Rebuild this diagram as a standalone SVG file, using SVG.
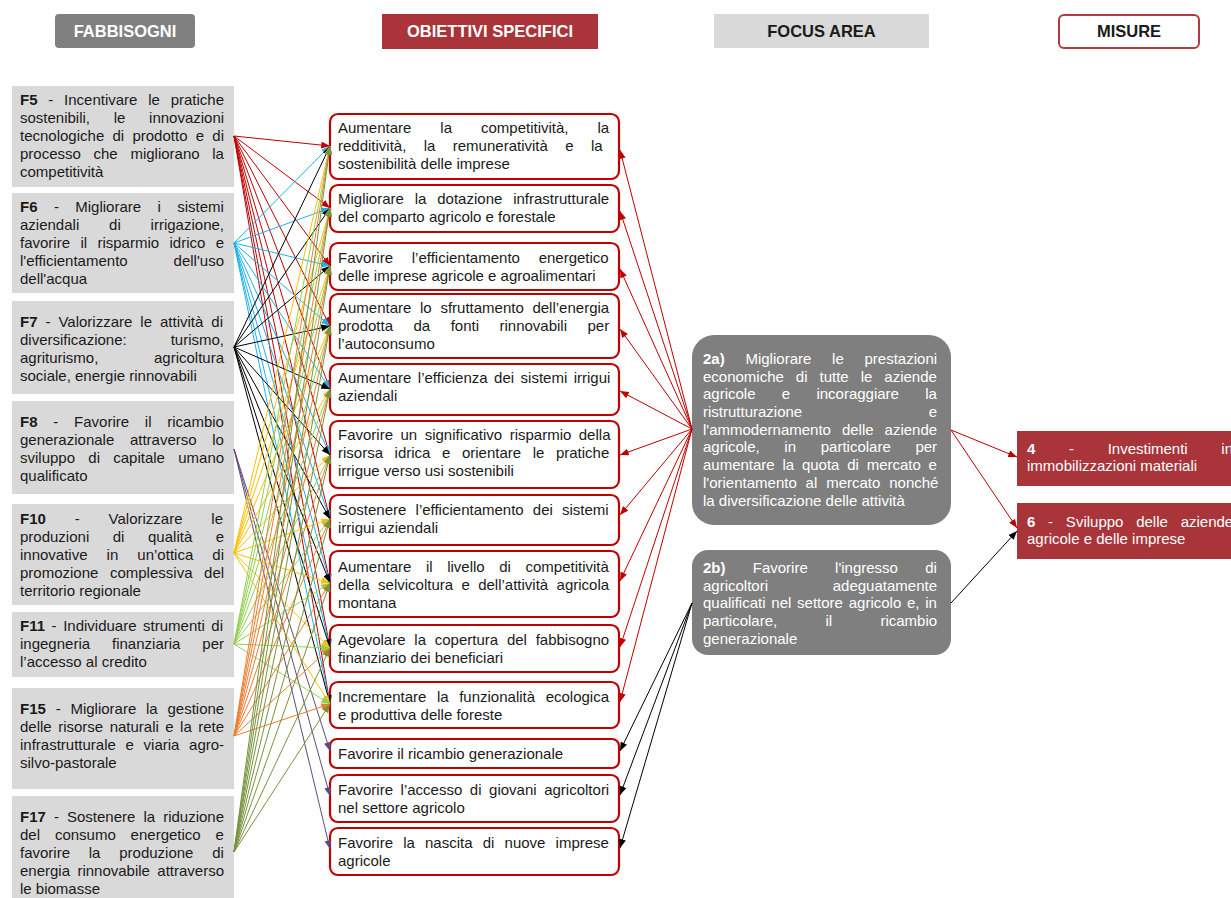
<svg xmlns="http://www.w3.org/2000/svg" width="1231" height="898" viewBox="0 0 1231 898">
<defs>
<style>
text{font-family:"Liberation Sans",Arial,sans-serif;font-size:15px;fill:#1a1a1a}
.b{font-weight:bold}
.w{fill:#fff}
.h{font-weight:bold;font-size:16.5px;text-anchor:middle}
.e{text-anchor:end}
.fb{fill:#d9d9d9}
.ob{fill:#fff;stroke:#c00000;stroke-width:2.2}
.fa{fill:#7f7f7f}
.ms{fill:#a9343a}
#conn line{stroke-width:1;fill:none}
.cr{stroke:#c00000;marker-end:url(#mr)}
.cb{stroke:#1ab2ee;marker-end:url(#mb)}
.ck{stroke:#000;marker-end:url(#mk)}
.cp{stroke:#604a7b;marker-end:url(#mp)}
.cy{stroke:#ffc000;marker-end:url(#my)}
.cg{stroke:#92d050;marker-end:url(#mg)}
.co{stroke:#ed7d31;marker-end:url(#mo)}
.cv{stroke:#77933c;marker-end:url(#mv)}
</style>
<marker id="mr" viewBox="0 0 10 8" refX="10" refY="4" markerWidth="9" markerHeight="7" orient="auto" markerUnits="userSpaceOnUse"><path d="M0,0L10,4L0,8z" fill="#c00000"/></marker>
<marker id="mb" viewBox="0 0 10 8" refX="10" refY="4" markerWidth="9" markerHeight="7" orient="auto" markerUnits="userSpaceOnUse"><path d="M0,0L10,4L0,8z" fill="#1ab2ee"/></marker>
<marker id="mk" viewBox="0 0 10 8" refX="10" refY="4" markerWidth="9" markerHeight="7" orient="auto" markerUnits="userSpaceOnUse"><path d="M0,0L10,4L0,8z" fill="#000"/></marker>
<marker id="mp" viewBox="0 0 10 8" refX="10" refY="4" markerWidth="9" markerHeight="7" orient="auto" markerUnits="userSpaceOnUse"><path d="M0,0L10,4L0,8z" fill="#604a7b"/></marker>
<marker id="my" viewBox="0 0 10 8" refX="10" refY="4" markerWidth="9" markerHeight="7" orient="auto" markerUnits="userSpaceOnUse"><path d="M0,0L10,4L0,8z" fill="#ffc000"/></marker>
<marker id="mg" viewBox="0 0 10 8" refX="10" refY="4" markerWidth="9" markerHeight="7" orient="auto" markerUnits="userSpaceOnUse"><path d="M0,0L10,4L0,8z" fill="#92d050"/></marker>
<marker id="mo" viewBox="0 0 10 8" refX="10" refY="4" markerWidth="9" markerHeight="7" orient="auto" markerUnits="userSpaceOnUse"><path d="M0,0L10,4L0,8z" fill="#ed7d31"/></marker>
<marker id="mv" viewBox="0 0 10 8" refX="10" refY="4" markerWidth="9" markerHeight="7" orient="auto" markerUnits="userSpaceOnUse"><path d="M0,0L10,4L0,8z" fill="#77933c"/></marker>
</defs>
<rect width="1231" height="898" fill="#fff"/>

<g id="headers">
<rect x="55" y="14" width="140" height="34" rx="4" fill="#808080"/>
<text class="h w" x="125" y="37">FABBISOGNI</text>
<rect x="382" y="14" width="216" height="35" fill="#a9343a"/>
<text class="h w" x="490" y="37">OBIETTIVI SPECIFICI</text>
<rect x="714" y="14" width="215" height="34" fill="#d9d9d9"/>
<text class="h" x="821.5" y="37">FOCUS AREA</text>
<rect x="1059" y="15" width="140" height="33" rx="5" fill="#fff" stroke="#b33a3f" stroke-width="2"/>
<text class="h" x="1129" y="37">MISURE</text>
</g>

<g id="F5">
<rect class="fb" x="12" y="86" width="222" height="101"/>
<text x="20" y="105" word-spacing="6.6"><tspan class="b">F5</tspan> - Incentivare le pratiche</text>
<text x="20" y="123" word-spacing="19.5">sostenibili, le innovazioni</text>
<text x="20" y="141" word-spacing="4.1">tecnologiche di prodotto e di</text>
<text x="20" y="159" word-spacing="8.5">processo che migliorano la</text>
<text x="20" y="177">competitività</text>
</g>
<g id="F6">
<rect class="fb" x="12" y="193" width="222" height="100"/>
<text x="20" y="212" word-spacing="12.2"><tspan class="b">F6</tspan> - Migliorare i sistemi</text>
<text x="20" y="230" word-spacing="25.7">aziendali di irrigazione,</text>
<text x="20" y="248" word-spacing="6.2">favorire il risparmio idrico e</text>
<text x="20" y="266">l'efficientamento</text><text class="e" x="224" y="266">dell'uso</text>
<text x="20" y="284">dell'acqua</text>
</g>
<g id="F7">
<rect class="fb" x="12" y="301" width="222" height="93"/>
<text x="20" y="327" word-spacing="3.8"><tspan class="b">F7</tspan> - Valorizzare le attività di</text>
<text x="20" y="345">diversificazione:</text><text class="e" x="224" y="345">turismo,</text>
<text x="20" y="363">agriturismo,</text><text class="e" x="224" y="363">agricoltura</text>
<text x="20" y="381">sociale, energie rinnovabili</text>
</g>
<g id="F8">
<rect class="fb" x="12" y="401" width="222" height="93"/>
<text x="20" y="427" word-spacing="11.6"><tspan class="b">F8</tspan> - Favorire il ricambio</text>
<text x="20" y="445" word-spacing="11.5">generazionale attraverso lo</text>
<text x="20" y="463" word-spacing="9.1">sviluppo di capitale umano</text>
<text x="20" y="481">qualificato</text>
</g>
<g id="F10">
<rect class="fb" x="12" y="504" width="222" height="101"/>
<text x="20" y="524" word-spacing="24.7"><tspan class="b">F10</tspan> - Valorizzare le</text>
<text x="20" y="542" word-spacing="19.4">produzioni di qualità e</text>
<text x="20" y="560" word-spacing="14.9">innovative in un’ottica di</text>
<text x="20" y="578" word-spacing="7.4">promozione complessiva del</text>
<text x="20" y="596">territorio regionale</text>
</g>
<g id="F11">
<rect class="fb" x="12" y="612" width="222" height="65"/>
<text x="20" y="631" word-spacing="2.4"><tspan class="b">F11</tspan> - Individuare strumenti di</text>
<text x="20" y="649" word-spacing="17.8">ingegneria finanziaria per</text>
<text x="20" y="667">l’accesso al credito</text>
</g>
<g id="F15">
<rect class="fb" x="12" y="688" width="222" height="101"/>
<text x="20" y="714" word-spacing="5.6"><tspan class="b">F15</tspan> - Migliorare la gestione</text>
<text x="20" y="732" word-spacing="2.3">delle risorse naturali e la rete</text>
<text x="20" y="750" word-spacing="5.5">infrastrutturale e viaria agro-</text>
<text x="20" y="768">silvo-pastorale</text>
</g>
<g id="F17">
<rect class="fb" x="12" y="796" width="222" height="110"/>
<text x="20" y="822" word-spacing="3.9"><tspan class="b">F17</tspan> - Sostenere la riduzione</text>
<text x="20" y="840" word-spacing="10.7">del consumo energetico e</text>
<text x="20" y="858" word-spacing="14.6">favorire la produzione di</text>
<text x="20" y="876" word-spacing="3.2">energia rinnovabile attraverso</text>
<text x="20" y="894">le biomasse</text>
</g>

<g id="O1"><rect class="ob" x="330" y="114" width="289" height="65" rx="8"/>
<text x="338" y="133" word-spacing="24.8">Aumentare la competitività, la</text>
<text x="338" y="151" word-spacing="13.2">redditività, la remuneratività e la</text>
<text x="338" y="169">sostenibilità delle imprese</text></g>
<g id="O2"><rect class="ob" x="330" y="185" width="289" height="47" rx="8"/>
<text x="338" y="204" word-spacing="6.7">Migliorare la dotazione infrastrutturale</text>
<text x="338" y="222">del comparto agricolo e forestale</text></g>
<g id="O3"><rect class="ob" x="330" y="243" width="289" height="47" rx="8"/>
<text x="338" y="263" word-spacing="14.6">Favorire l’efficientamento energetico</text>
<text x="338" y="281">delle imprese agricole e agroalimentari</text></g>
<g id="O4"><rect class="ob" x="330" y="294" width="289" height="64" rx="8"/>
<text x="338" y="313" word-spacing="4.5">Aumentare lo sfruttamento dell’energia</text>
<text x="338" y="331" word-spacing="16.3">prodotta da fonti rinnovabili per</text>
<text x="338" y="349">l’autoconsumo</text></g>
<g id="O5"><rect class="ob" x="330" y="364" width="289" height="51" rx="8"/>
<text x="338" y="383" word-spacing="2.3">Aumentare l’efficienza dei sistemi irrigui</text>
<text x="338" y="401">aziendali</text></g>
<g id="O6"><rect class="ob" x="330" y="421" width="289" height="67" rx="8"/>
<text x="338" y="440" word-spacing="3.3">Favorire un significativo risparmio della</text>
<text x="338" y="458" word-spacing="7.4">risorsa idrica e orientare le pratiche</text>
<text x="338" y="476">irrigue verso usi sostenibili</text></g>
<g id="O7"><rect class="ob" x="330" y="495" width="289" height="50" rx="8"/>
<text x="338" y="515" word-spacing="5.0">Sostenere l’efficientamento dei sistemi</text>
<text x="338" y="533">irrigui aziendali</text></g>
<g id="O8"><rect class="ob" x="330" y="551" width="289" height="66" rx="8"/>
<text x="338" y="572" word-spacing="10.4">Aumentare il livello di competitività</text>
<text x="338" y="590" word-spacing="4.2">della selvicoltura e dell’attività agricola</text>
<text x="338" y="608">montana</text></g>
<g id="O9"><rect class="ob" x="330" y="625" width="289" height="47" rx="8"/>
<text x="338" y="645" word-spacing="4.6">Agevolare la copertura del fabbisogno</text>
<text x="338" y="663">finanziario dei beneficiari</text></g>
<g id="O10"><rect class="ob" x="330" y="682" width="289" height="46" rx="8"/>
<text x="338" y="702" word-spacing="6.4">Incrementare la funzionalità ecologica</text>
<text x="338" y="720">e produttiva delle foreste</text></g>
<g id="O11"><rect class="ob" x="330" y="739" width="289" height="29" rx="7"/>
<text x="338" y="759">Favorire il ricambio generazionale</text></g>
<g id="O12"><rect class="ob" x="330" y="775" width="289" height="47" rx="8"/>
<text x="338" y="795" word-spacing="3.4">Favorire l’accesso di giovani agricoltori</text>
<text x="338" y="813">nel settore agricolo</text></g>
<g id="O13"><rect class="ob" x="330" y="828" width="289" height="47" rx="8"/>
<text x="338" y="848" word-spacing="6.0">Favorire la nascita di nuove imprese</text>
<text x="338" y="866">agricole</text></g>

<g id="FA2a"><rect class="fa" x="692" y="335" width="259" height="190" rx="22"/>
<text class="w" x="703" y="364" word-spacing="16.6"><tspan class="b w">2a)</tspan> Migliorare le prestazioni</text>
<text class="w" x="703" y="382" word-spacing="7.8">economiche di tutte le aziende</text>
<text class="w" x="703" y="399" word-spacing="22.1">agricole e incoraggiare la</text>
<text class="w" x="703" y="417">ristrutturazione</text><text class="w e" x="937" y="417">e</text>
<text class="w" x="703" y="435" word-spacing="6.8">l'ammodernamento delle aziende</text>
<text class="w" x="703" y="452" word-spacing="20.5">agricole, in particolare per</text>
<text class="w" x="703" y="470" word-spacing="3.6">aumentare la quota di mercato e</text>
<text class="w" x="703" y="488" word-spacing="4.7">l'orientamento al mercato nonché</text>
<text class="w" x="703" y="506">la diversificazione delle attività</text></g>
<g id="FA2b"><rect class="fa" x="692" y="550" width="259" height="105" rx="16"/>
<text class="w" x="703" y="573" word-spacing="23.1"><tspan class="b w">2b)</tspan> Favorire l'ingresso di</text>
<text class="w" x="703" y="591">agricoltori</text><text class="w e" x="937" y="591">adeguatamente</text>
<text class="w" x="703" y="608" word-spacing="1.6">qualificati nel settore agricolo e, in</text>
<text class="w" x="703" y="626" word-spacing="44.1">particolare, il ricambio</text>
<text class="w" x="703" y="644">generazionale</text></g>

<g id="M4"><rect class="ms" x="1017" y="431" width="230" height="55"/>
<text class="w" x="1027" y="454" word-spacing="29.5"><tspan class="b w">4</tspan> - Investimenti in</text>
<text class="w" x="1027" y="471">immobilizzazioni materiali</text></g>
<g id="M6"><rect class="ms" x="1017" y="503" width="230" height="56"/>
<text class="w" x="1027" y="527" word-spacing="8.6"><tspan class="b w">6</tspan> - Sviluppo delle aziende</text>
<text class="w" x="1027" y="544">agricole e delle imprese</text></g>

<g id="conn">
<line class="cr" x1="234" y1="136" x2="330" y2="146"/><line class="cr" x1="234" y1="136" x2="330" y2="208"/><line class="cr" x1="234" y1="136" x2="330" y2="266"/><line class="cr" x1="234" y1="136" x2="330" y2="326"/><line class="cr" x1="234" y1="136" x2="330" y2="389"/><line class="cr" x1="234" y1="136" x2="330" y2="455"/><line class="cr" x1="234" y1="136" x2="330" y2="519"/><line class="cr" x1="234" y1="136" x2="330" y2="583"/><line class="cr" x1="234" y1="136" x2="330" y2="648"/><line class="cr" x1="234" y1="136" x2="330" y2="704"/>
<line class="cb" x1="234" y1="243" x2="330" y2="146"/><line class="cb" x1="234" y1="243" x2="330" y2="208"/><line class="cb" x1="234" y1="243" x2="330" y2="266"/><line class="cb" x1="234" y1="243" x2="330" y2="326"/><line class="cb" x1="234" y1="243" x2="330" y2="389"/><line class="cb" x1="234" y1="243" x2="330" y2="455"/><line class="cb" x1="234" y1="243" x2="330" y2="519"/><line class="cb" x1="234" y1="243" x2="330" y2="583"/><line class="cb" x1="234" y1="243" x2="330" y2="648"/><line class="cb" x1="234" y1="243" x2="330" y2="704"/>
<line class="ck" x1="234" y1="347" x2="330" y2="146"/><line class="ck" x1="234" y1="347" x2="330" y2="208"/><line class="ck" x1="234" y1="347" x2="330" y2="266"/><line class="ck" x1="234" y1="347" x2="330" y2="326"/><line class="ck" x1="234" y1="347" x2="330" y2="389"/><line class="ck" x1="234" y1="347" x2="330" y2="455"/><line class="ck" x1="234" y1="347" x2="330" y2="519"/><line class="ck" x1="234" y1="347" x2="330" y2="583"/><line class="ck" x1="234" y1="347" x2="330" y2="648"/><line class="ck" x1="234" y1="347" x2="330" y2="704"/>
<line class="cp" x1="234" y1="449" x2="330" y2="751"/><line class="cp" x1="234" y1="449" x2="330" y2="796"/><line class="cp" x1="234" y1="449" x2="330" y2="849"/>
<line class="cy" x1="234" y1="553" x2="330" y2="146"/><line class="cy" x1="234" y1="553" x2="330" y2="208"/><line class="cy" x1="234" y1="553" x2="330" y2="266"/><line class="cy" x1="234" y1="553" x2="330" y2="326"/><line class="cy" x1="234" y1="553" x2="330" y2="389"/><line class="cy" x1="234" y1="553" x2="330" y2="455"/><line class="cy" x1="234" y1="553" x2="330" y2="519"/><line class="cy" x1="234" y1="553" x2="330" y2="583"/><line class="cy" x1="234" y1="553" x2="330" y2="648"/><line class="cy" x1="234" y1="553" x2="330" y2="704"/>
<line class="cg" x1="234" y1="644" x2="330" y2="146"/><line class="cg" x1="234" y1="644" x2="330" y2="208"/><line class="cg" x1="234" y1="644" x2="330" y2="266"/><line class="cg" x1="234" y1="644" x2="330" y2="326"/><line class="cg" x1="234" y1="644" x2="330" y2="389"/><line class="cg" x1="234" y1="644" x2="330" y2="455"/><line class="cg" x1="234" y1="644" x2="330" y2="519"/><line class="cg" x1="234" y1="644" x2="330" y2="583"/><line class="cg" x1="234" y1="644" x2="330" y2="648"/><line class="cg" x1="234" y1="644" x2="330" y2="704"/>
<line class="co" x1="234" y1="736" x2="330" y2="146"/><line class="co" x1="234" y1="736" x2="330" y2="208"/><line class="co" x1="234" y1="736" x2="330" y2="266"/><line class="co" x1="234" y1="736" x2="330" y2="326"/><line class="co" x1="234" y1="736" x2="330" y2="389"/><line class="co" x1="234" y1="736" x2="330" y2="455"/><line class="co" x1="234" y1="736" x2="330" y2="519"/><line class="co" x1="234" y1="736" x2="330" y2="583"/><line class="co" x1="234" y1="736" x2="330" y2="648"/><line class="co" x1="234" y1="736" x2="330" y2="704"/>
<line class="cv" x1="234" y1="852" x2="330" y2="146"/><line class="cv" x1="234" y1="852" x2="330" y2="208"/><line class="cv" x1="234" y1="852" x2="330" y2="266"/><line class="cv" x1="234" y1="852" x2="330" y2="326"/><line class="cv" x1="234" y1="852" x2="330" y2="389"/><line class="cv" x1="234" y1="852" x2="330" y2="455"/><line class="cv" x1="234" y1="852" x2="330" y2="519"/><line class="cv" x1="234" y1="852" x2="330" y2="583"/><line class="cv" x1="234" y1="852" x2="330" y2="648"/><line class="cv" x1="234" y1="852" x2="330" y2="704"/>
<line class="cr" x1="692" y1="429" x2="620" y2="150"/><line class="cr" x1="692" y1="429" x2="620" y2="211"/><line class="cr" x1="692" y1="429" x2="620" y2="269"/><line class="cr" x1="692" y1="429" x2="620" y2="329"/><line class="cr" x1="692" y1="429" x2="620" y2="391"/><line class="cr" x1="692" y1="429" x2="620" y2="455"/><line class="cr" x1="692" y1="429" x2="620" y2="515"/><line class="cr" x1="692" y1="429" x2="620" y2="581"/><line class="cr" x1="692" y1="429" x2="620" y2="647"/><line class="cr" x1="692" y1="429" x2="620" y2="702"/>
<line class="ck" x1="692" y1="603" x2="620" y2="751"/><line class="ck" x1="692" y1="603" x2="620" y2="795"/><line class="ck" x1="692" y1="603" x2="620" y2="848"/>
<line class="cr" x1="951" y1="430" x2="1017" y2="457"/><line class="cr" x1="951" y1="430" x2="1017" y2="528"/>
<line class="ck" x1="951" y1="603" x2="1017" y2="531"/>
</g>
</svg>
